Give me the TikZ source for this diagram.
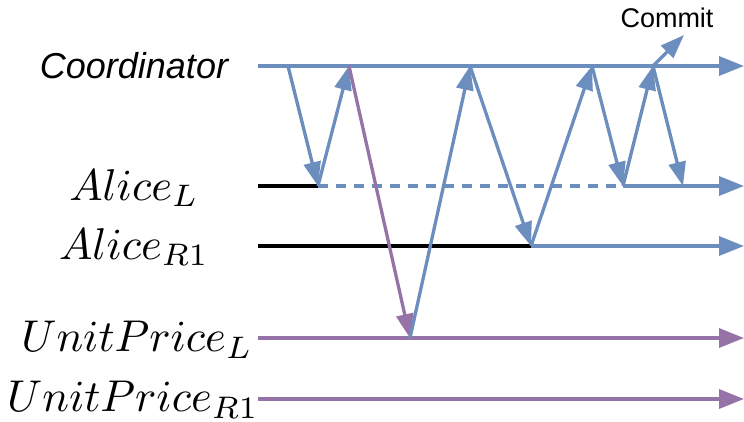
\documentclass[tikz,border=0pt]{standalone}
\usepackage{fontspec}
\newfontfamily\lsans{Liberation Sans}
\usetikzlibrary{arrows.meta}
\definecolor{cblue}{HTML}{6C8EBF}
\definecolor{cpurple}{HTML}{9673A6}
\begin{document}
\begin{tikzpicture}[x=1pt,y=-1pt,
  lbl/.style={inner sep=0pt, anchor=center},
  mathlbl/.style={lbl, scale=4.45},
  life/.style={line width=3.3pt, -{Triangle[length=25pt,width=19pt]}},
  msg/.style={line width=3.3pt, -{Triangle[length=24pt,width=17pt]}},
  pre/.style={line width=3.3pt, black}]
\useasboundingbox (0,0) rectangle (744,422);
% labels
\node[lbl, scale=3.6] (lc) at (134,66) {\lsans\itshape Coordinator};
\node[mathlbl] (la) at (134,188) {$Alice_L$};
\node[mathlbl] (lr) at (134,247) {$Alice_{R1}$};
\node[mathlbl] (lu) at (137,340) {$UnitPrice_L$};
\node[mathlbl] (lv) at (133,400) {$UnitPrice_{R1}$};
\node[lbl, scale=2.7] (commit) at (667,18) {\lsans Commit};
% lifeline points
\coordinate (c0) at (258,66);
\coordinate (c1) at (288,66);
\coordinate (c2) at (349,66);
\coordinate (c3) at (470,66);
\coordinate (c4) at (592,66);
\coordinate (c5) at (653,66);
\coordinate (cend) at (744,66);
\coordinate (ccommit) at (684,35);
\coordinate (a0) at (258,186);
\coordinate (a1) at (318,186);
\coordinate (a2) at (623,186);
\coordinate (a3) at (683,186);
\coordinate (aend) at (744,186);
\coordinate (r0) at (258,246);
\coordinate (r1) at (531,246);
\coordinate (rend) at (744,246);
\coordinate (u0) at (258,338);
\coordinate (u1) at (410,338);
\coordinate (uend) at (744,338);
\coordinate (v0) at (258,399);
\coordinate (vend) at (744,399);
% lifelines
\draw[life, cblue] (c0) -- (cend);
\draw[pre] (a0) -- (a1);
\draw[line width=3.3pt, cblue, dash pattern=on 10pt off 8pt] (a1) -- (a2);
\draw[life, cblue] (a2) -- (aend);
\draw[pre] (r0) -- (r1);
\draw[life, cblue] (r1) -- (rend);
\draw[life, cpurple] (u0) -- (uend);
\draw[life, cpurple] (v0) -- (vend);
% messages
\draw[msg, cblue] (c1) -- (a1);
\draw[msg, cblue] (a1) -- (c2);
\draw[msg, cpurple] (c2) -- (u1);
\draw[msg, cblue] (u1) -- (c3);
\draw[msg, cblue] (c3) -- (r1);
\draw[msg, cblue] (r1) -- (c4);
\draw[msg, cblue] (c4) -- (a2);
\draw[msg, cblue] (a2) -- (c5);
\draw[msg, cblue] (c5) -- (a3);
\draw[msg, cblue] (c5) -- (ccommit);
\end{tikzpicture}
\end{document}
